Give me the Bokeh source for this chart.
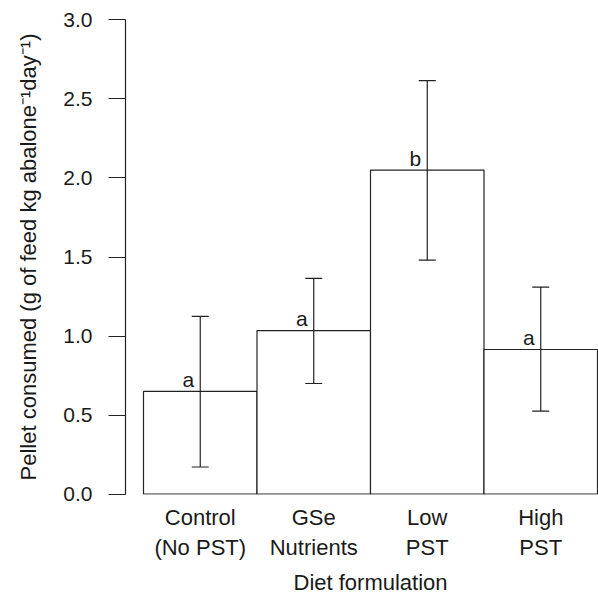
from bokeh.plotting import figure
from bokeh.models import Range1d, FixedTicker, PrintfTickFormatter, Whisker, TeeHead, ColumnDataSource, Title
from bokeh.core.properties import value
from bokeh.embed import file_html
from bokeh.resources import INLINE

categories = ["Control\n(No PST)", "GSe\nNutrients", "Low\nPST", "High\nPST"]
means = [0.65, 1.035, 2.05, 0.915]
upper = [1.125, 1.365, 2.615, 1.31]
lower = [0.172, 0.70, 1.48, 0.525]
letters = ["a", "a", "b", "a"]
y_ticks = [0.0, 0.5, 1.0, 1.5, 2.0, 2.5, 3.0]

FONT = "Liberation Sans"
TXT = "#1a1a1a"
LINE = "#222222"

xs = [i + 1 for i in range(len(categories))]
src = ColumnDataSource(dict(x=xs, top=means, upper=upper, lower=lower,
                            lx=[x - 0.105 for x in xs], letters=letters))

p = figure(width=598, height=594, output_backend="svg", toolbar_location=None,
           x_range=Range1d(0.3414, 4.5088), y_range=Range1d(-0.002, 3.002),
           min_border_left=125, min_border_right=0, min_border_top=19, min_border_bottom=100)
p.outline_line_color = None
p.xgrid.visible = False
p.ygrid.visible = False
p.background_fill_color = "white"

p.vbar(x="x", top="top", bottom=0, width=1.0, source=src,
       fill_color="white", line_color=LINE, line_width=1.2)

w = Whisker(base="x", upper="upper", lower="lower", source=src,
            line_color=LINE, line_width=1.2, level="overlay",
            upper_head=TeeHead(size=17, line_color=LINE, line_width=1.2),
            lower_head=TeeHead(size=17, line_color=LINE, line_width=1.2))
p.add_layout(w)

p.text(x="lx", y="top", text="letters", source=src, text_align="center",
       text_baseline="alphabetic", y_offset=-12, text_font=value(FONT),
       text_font_size="21px", text_color=TXT)

# y axis
ya = p.yaxis[0]
ya.ticker = FixedTicker(ticks=y_ticks)
ya.formatter = PrintfTickFormatter(format="%.1f")
ya.minor_tick_line_color = None
ya.major_tick_out = 17
ya.major_tick_in = 0
ya.major_label_standoff = 16
ya.axis_line_color = LINE
ya.major_tick_line_color = LINE
ya.axis_line_width = 1.2
ya.major_tick_line_width = 1.2
ya.major_label_text_font = FONT
ya.major_label_text_font_size = "21px"
ya.major_label_text_color = TXT
ya.axis_label = "Pellet consumed (g of feed kg abalone\u207b\u00b9day\u207b\u00b9)"
ya.axis_label_text_font = FONT
ya.axis_label_text_font_size = "22px"
ya.axis_label_text_font_style = "normal"
ya.axis_label_text_color = TXT
ya.axis_label_standoff = 19

# x axis
xa = p.xaxis[0]
xa.ticker = FixedTicker(ticks=xs)
xa.major_label_overrides = {x: c for x, c in zip(xs, categories)}
xa.axis_line_color = None
xa.major_tick_line_color = None
xa.minor_tick_line_color = None
xa.major_tick_out = 0
xa.major_tick_in = 0
xa.major_label_standoff = 10
xa.major_label_text_font = FONT
xa.major_label_text_font_size = "22px"
xa.major_label_text_color = TXT
# tiny blank spacer label to push the title a little lower
xa.axis_label = " "
xa.axis_label_text_font_size = "1px"
xa.axis_label_standoff = 1

p.add_layout(Title(text="Diet formulation", align="left", offset=168, standoff=0,
                   vertical_align="bottom",
                   text_font=FONT, text_font_size="22px", text_font_style="normal",
                   text_color=TXT), "below")

open("out.html", "w").write(file_html(p, INLINE))
